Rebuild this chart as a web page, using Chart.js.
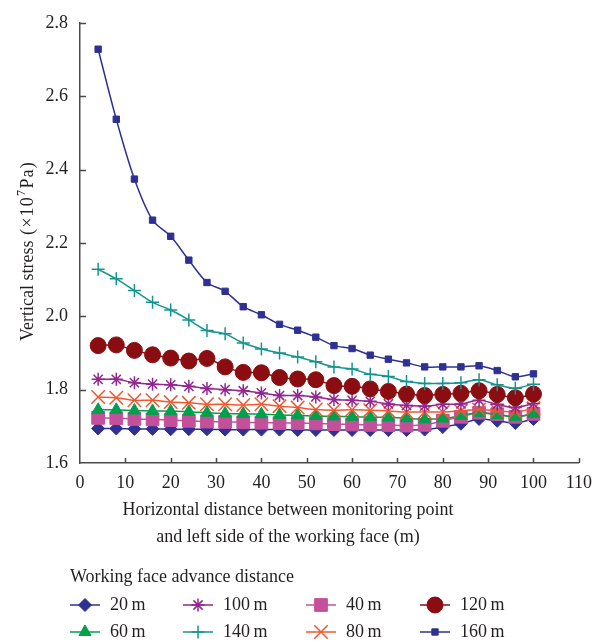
<!DOCTYPE html>
<html>
<head>
<meta charset="utf-8">
<script src="https://cdn.jsdelivr.net/npm/chart.js@4.4.1/dist/chart.umd.min.js"></script>
<style>
  html, body { margin: 0; padding: 0; background: #fff; }
</style>
</head>
<body>
<canvas id="stress-chart" width="601" height="644"></canvas>
<script>
// horizontal distance of each monitoring point (m)
const distances = [4, 8, 12, 16, 20, 24, 28, 32, 36, 40, 44, 48, 52, 56, 60, 64, 68, 72, 76, 80, 84, 88, 92, 96, 100];

// vertical stress (x10^7 Pa) for each advance distance
const s20  = [1.694, 1.694, 1.693, 1.693, 1.692, 1.692, 1.692, 1.691, 1.691, 1.691, 1.691, 1.690, 1.690, 1.690, 1.690, 1.690, 1.690, 1.690, 1.691, 1.698, 1.707, 1.720, 1.715, 1.709, 1.720];
const s40  = [1.723, 1.722, 1.720, 1.719, 1.717, 1.715, 1.713, 1.712, 1.711, 1.710, 1.709, 1.709, 1.708, 1.706, 1.705, 1.704, 1.703, 1.702, 1.704, 1.715, 1.726, 1.737, 1.733, 1.726, 1.734];
const s60  = [1.745, 1.745, 1.743, 1.742, 1.741, 1.740, 1.737, 1.735, 1.734, 1.733, 1.731, 1.730, 1.728, 1.727, 1.726, 1.725, 1.724, 1.722, 1.719, 1.721, 1.729, 1.737, 1.731, 1.726, 1.734];
const s80  = [1.780, 1.778, 1.771, 1.771, 1.766, 1.764, 1.760, 1.760, 1.758, 1.760, 1.755, 1.751, 1.746, 1.744, 1.745, 1.744, 1.742, 1.739, 1.739, 1.739, 1.742, 1.746, 1.742, 1.739, 1.749];
const s100 = [1.828, 1.828, 1.819, 1.815, 1.813, 1.809, 1.803, 1.800, 1.797, 1.791, 1.784, 1.784, 1.780, 1.773, 1.771, 1.768, 1.761, 1.757, 1.755, 1.760, 1.761, 1.771, 1.760, 1.751, 1.762];
const s120 = [1.920, 1.922, 1.907, 1.895, 1.886, 1.878, 1.885, 1.862, 1.847, 1.846, 1.833, 1.829, 1.827, 1.811, 1.809, 1.802, 1.795, 1.788, 1.784, 1.787, 1.790, 1.797, 1.787, 1.778, 1.788];
const s140 = [2.128, 2.102, 2.070, 2.038, 2.017, 1.990, 1.961, 1.952, 1.927, 1.911, 1.900, 1.889, 1.876, 1.862, 1.856, 1.842, 1.836, 1.822, 1.817, 1.817, 1.819, 1.827, 1.813, 1.804, 1.815];
const s160 = [2.728, 2.537, 2.374, 2.262, 2.218, 2.153, 2.092, 2.068, 2.026, 2.004, 1.978, 1.962, 1.943, 1.920, 1.912, 1.894, 1.883, 1.873, 1.862, 1.862, 1.862, 1.865, 1.852, 1.835, 1.843];

const xTicks = [0, 10, 20, 30, 40, 50, 60, 70, 80, 90, 100, 110];
const yTicks = [1.6, 1.8, 2.0, 2.2, 2.4, 2.6, 2.8];

// legend reads row by row, 4 columns
const legendOrder = ['20 m', '100 m', '40 m', '120 m', '60 m', '140 m', '80 m', '160 m'];

const FONT = '"Liberation Serif", "DejaVu Serif", serif';
const AXIS = '#4a4a4a';
const TEXT = '#231f20';

// marker + colour per series
const styles = {
  '20 m':  { data: s20,  color: '#2e3192', point: 'rectRot',  r: 6.5, bw: 1 },
  '40 m':  { data: s40,  color: '#c4509c', point: 'rect',     r: 9,   bw: 1 },
  '60 m':  { data: s60,  color: '#00a04c', point: 'triangle', r: 7,   bw: 1 },
  '80 m':  { data: s80,  color: '#f2572f', point: 'crossRot', r: 9.5, bw: 1.5 },
  '100 m': { data: s100, color: '#92278f', point: 'star',     r: 6.5, bw: 1.5 },
  '120 m': { data: s120, color: '#8b0d11', point: 'circle',   r: 8,   bw: 1 },
  '140 m': { data: s140, color: '#15948f', point: 'cross',    r: 6.5, bw: 1.5 },
  '160 m': { data: s160, color: '#2e3192', point: 'rect',     r: 4.5, bw: 1 }
};

// first in list is drawn on top
const drawOrder = ['160 m', '140 m', '120 m', '100 m', '80 m', '60 m', '40 m', '20 m'];

const datasets = drawOrder.map(name => {
  const st = styles[name];
  return {
    label: name,
    data: distances.map((d, i) => ({ x: d, y: st.data[i] })),
    borderColor: st.color,
    borderWidth: 1.5,
    backgroundColor: st.color,
    pointStyle: st.point,
    pointRadius: st.r,
    pointBorderWidth: st.bw,
    pointBackgroundColor: st.color,
    pointBorderColor: st.color,
    tension: 0.3,
    fill: false
  };
});

const extras = {
  id: 'extras',
  afterDraw(chart) {
    const ctx = chart.ctx;
    const xs = chart.scales.x, ys = chart.scales.y;
    const area = chart.chartArea;
    ctx.save();

    // inward tick marks
    ctx.strokeStyle = AXIS;
    ctx.lineWidth = 1.5;
    ctx.beginPath();
    xTicks.forEach(v => {
      if (v === 0) return;
      const px = Math.round(xs.getPixelForValue(v)) + 0.5;
      ctx.moveTo(px, area.bottom);
      ctx.lineTo(px, area.bottom - 5);
    });
    yTicks.forEach(v => {
      if (v === 1.6) return;
      const py = Math.round(ys.getPixelForValue(v)) + 0.5;
      ctx.moveTo(area.left, py);
      ctx.lineTo(area.left + 6, py);
    });
    ctx.stroke();

    ctx.fillStyle = TEXT;
    ctx.font = '18px ' + FONT;
    ctx.textBaseline = 'middle';

    // x title
    ctx.textAlign = 'center';
    ctx.fillText('Horizontal distance between monitoring point', 288, 510);
    ctx.fillText('and left side of the working face (m)', 288, 537);

    // y title, with a raised 7
    ctx.save();
    ctx.translate(28, 341);
    ctx.rotate(-Math.PI / 2);
    ctx.textAlign = 'left';
    let cx = 0;
    const put = (s, font, dy, gap) => {
      ctx.font = font;
      ctx.fillText(s, cx, dy);
      cx += ctx.measureText(s).width + gap;
    };
    put('Vertical stress ', '18px ' + FONT, 0, 1);
    ['(', '\u00d7', '1', '0'].forEach(ch => put(ch, '18px ' + FONT, 0, 1.2));
    put('7', '12px ' + FONT, -6, 1.5);
    ['P', 'a', ')'].forEach(ch => put(ch, '18px ' + FONT, 0, 1.2));
    ctx.restore();

    // legend
    ctx.font = '18px ' + FONT;
    ctx.textAlign = 'left';
    ctx.fillStyle = TEXT;
    ctx.fillText('Working face advance distance', 70, 577);
    const colX = [70, 183, 306, 420];
    const rowY = [605, 632];
    const helpers = Chart.helpers;
    legendOrder.forEach((name, i) => {
      const st = styles[name];
      const x0 = colX[i % 4];
      const y0 = rowY[Math.floor(i / 4)];
      ctx.strokeStyle = st.color;
      ctx.fillStyle = st.color;
      ctx.lineWidth = 1.5;
      ctx.beginPath();
      ctx.moveTo(x0, y0);
      ctx.lineTo(x0 + 30, y0);
      ctx.stroke();
      ctx.lineWidth = st.bw;
      if (helpers && helpers.drawPoint) {
        helpers.drawPoint(ctx, { pointStyle: st.point, radius: st.r, rotation: 0, borderWidth: st.bw }, x0 + 15, y0);
      }
      ctx.fillStyle = TEXT;
      ctx.fillText(name.replace(' ', '\u2009'), x0 + 40, y0);
    });

    ctx.restore();
  }
};

new Chart(document.getElementById('stress-chart').getContext('2d'), {
  type: 'line',
  data: { datasets },
  options: {
    responsive: false,
    animation: false,
    layout: { padding: { left: 0, right: 15, top: 16, bottom: 141 } },
    plugins: {
      legend: { display: false },
      tooltip: { enabled: false }
    },
    scales: {
      x: {
        type: 'linear',
        min: 0,
        max: 110,
        afterBuildTicks: s => { s.ticks = xTicks.map(v => ({ value: v })); },
        afterFit: s => { s.height = 40; },
        grid: { display: false, drawTicks: false },
        border: { display: true, color: AXIS, width: 1.5 },
        ticks: { color: TEXT, padding: 9, maxRotation: 0, font: { family: FONT, size: 18 } }
      },
      y: {
        type: 'linear',
        min: 1.6,
        max: 2.8,
        afterBuildTicks: s => { s.ticks = yTicks.map(v => ({ value: v })); },
        afterFit: s => { s.width = 80; },
        grid: { display: false, drawTicks: false },
        border: { display: true, color: AXIS, width: 1.5 },
        ticks: {
          color: TEXT,
          padding: 12,
          font: { family: FONT, size: 18 },
          callback: v => Number(v).toFixed(1)
        }
      }
    }
  },
  plugins: [extras]
});
</script>
</body>
</html>
